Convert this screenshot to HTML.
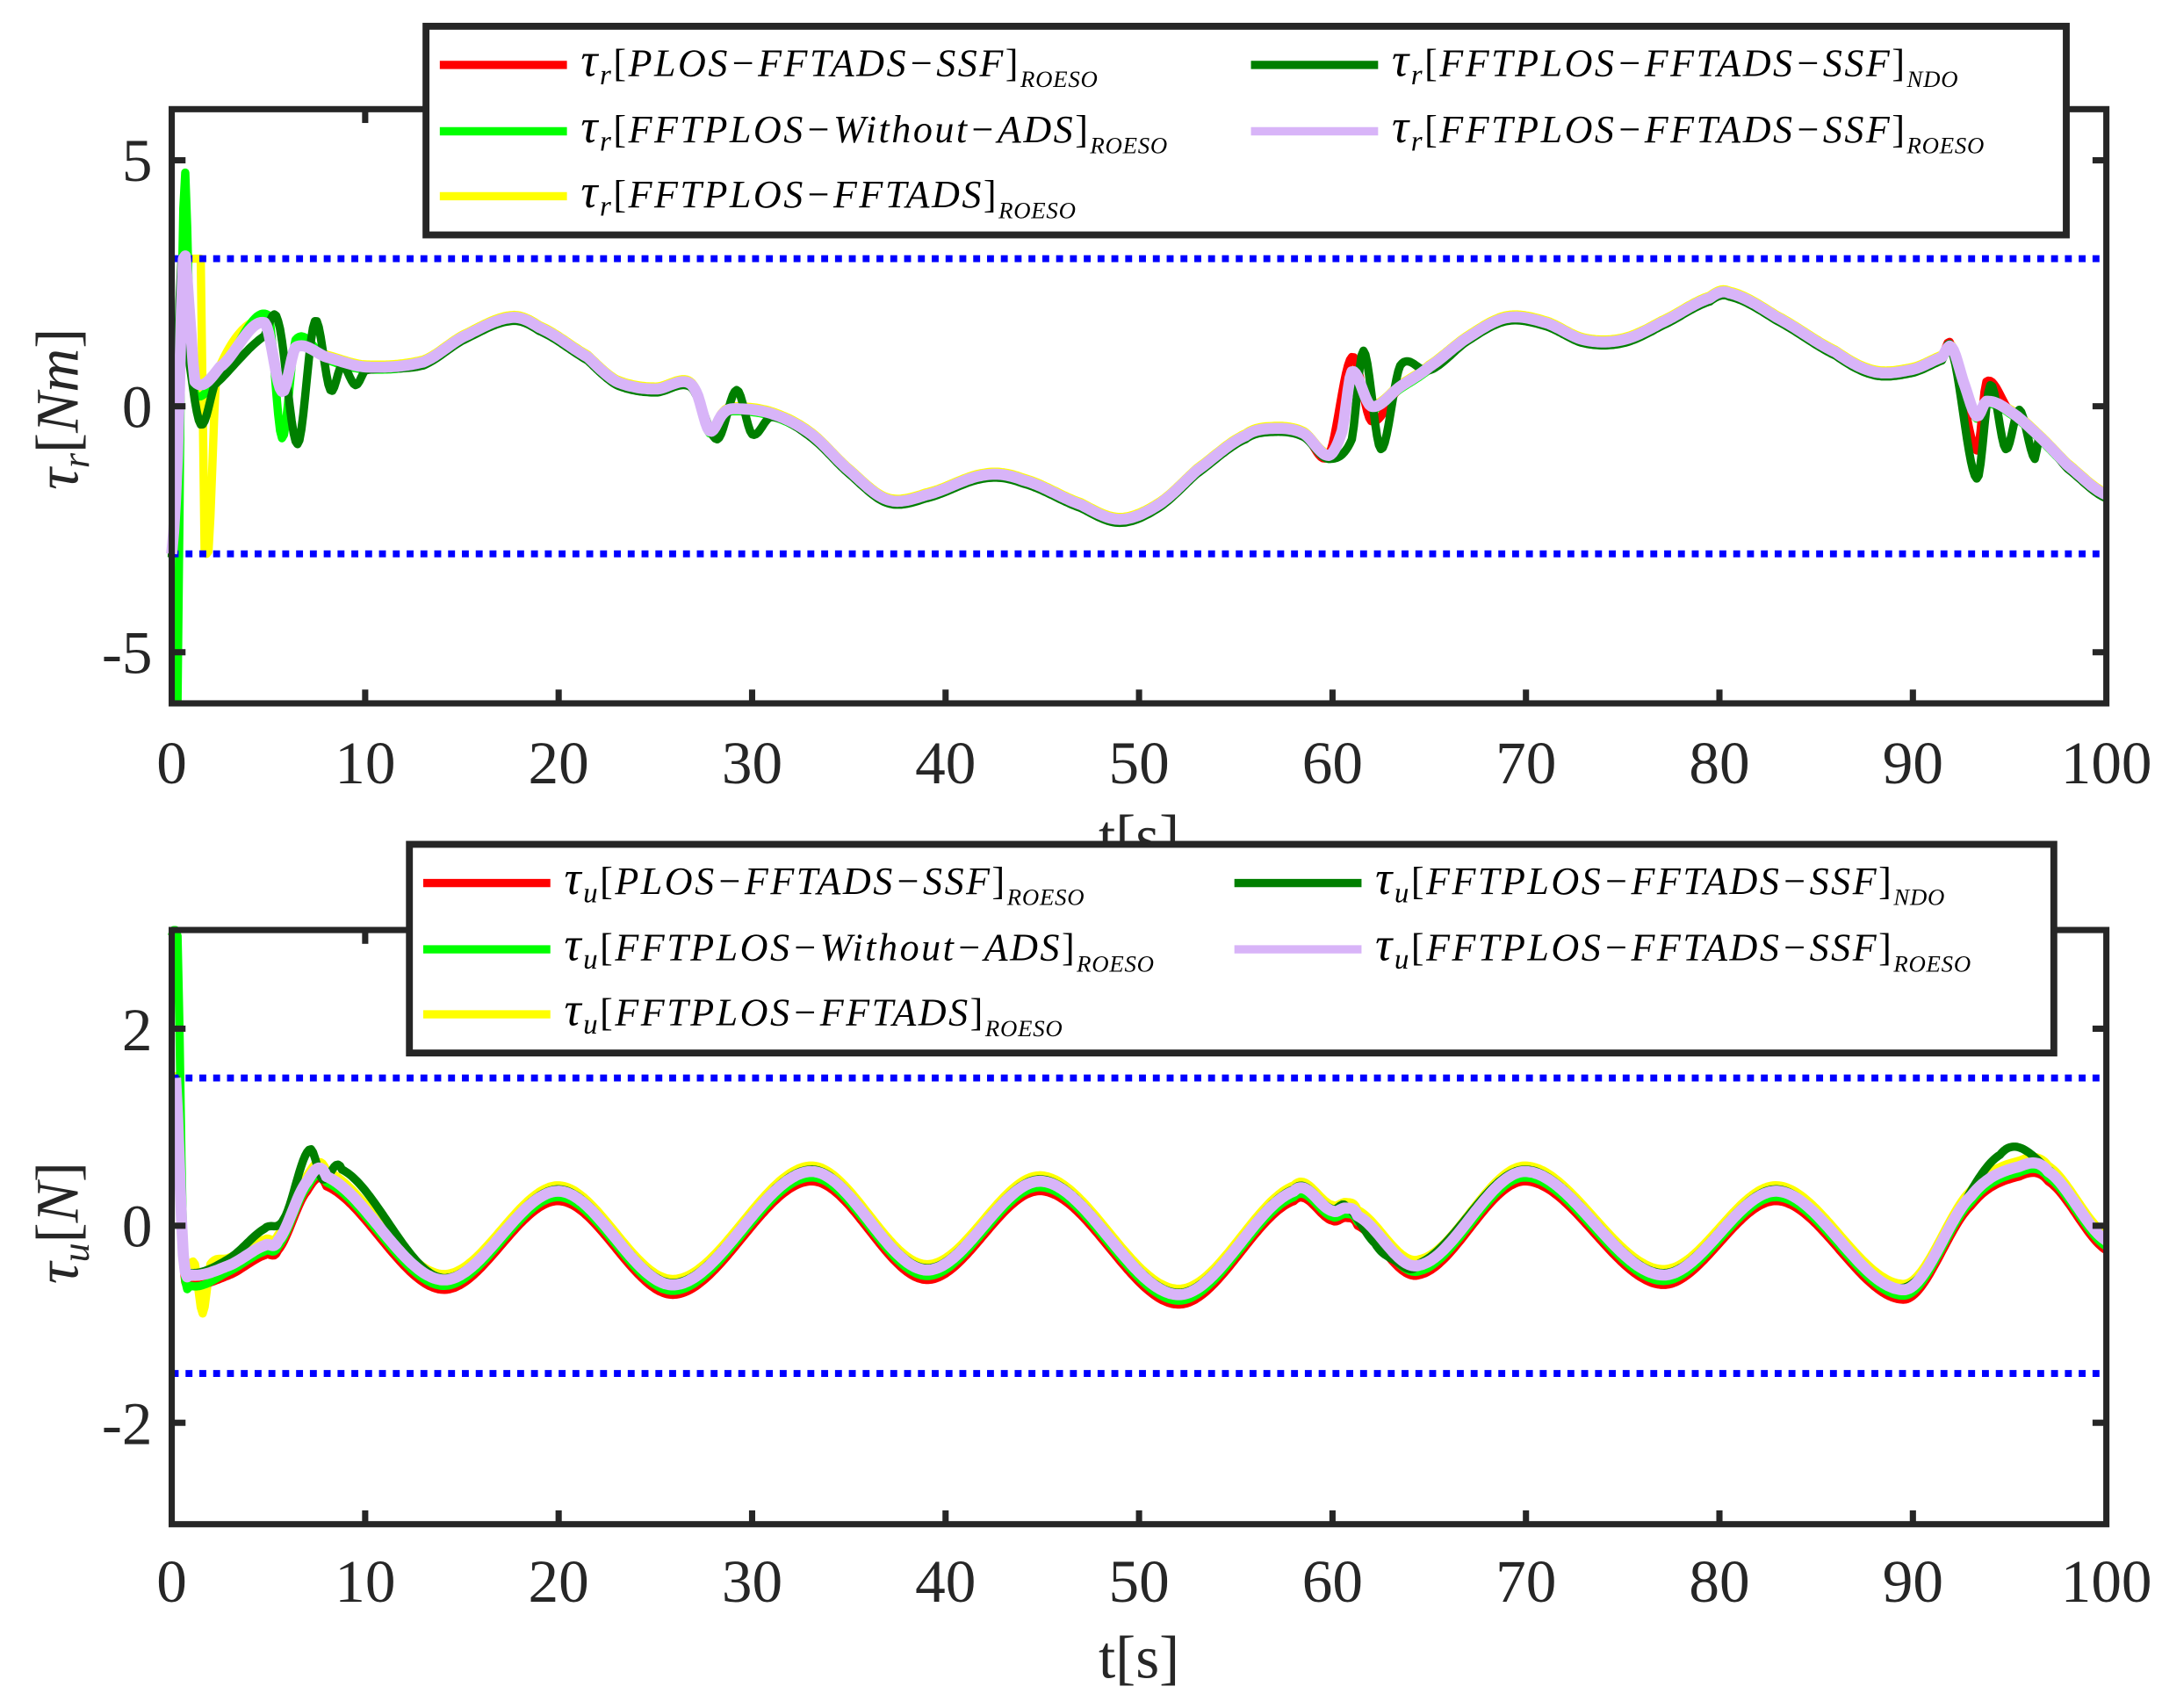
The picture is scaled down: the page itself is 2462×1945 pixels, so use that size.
<!DOCTYPE html>
<html><head><meta charset="utf-8">
<style>
html,body{margin:0;padding:0;background:#fff;}
svg{display:block;}
.tk{font-family:"Liberation Serif",serif;font-size:44px;fill:#262626;}
.lg{font-family:"Liberation Serif",serif;font-style:italic;font-size:28px;fill:#000;letter-spacing:1.6px;}
.sb{font-size:17px;letter-spacing:0.5px;}
</style></head>
<body>
<svg id="s" width="2462" height="1945" viewBox="0 0 1564 1236" xmlns="http://www.w3.org/2000/svg">
<rect width="1564" height="1236" fill="#fff"/>
<g id="p1"></g>
<g id="p2"></g>
<g stroke="#262626" stroke-width="4.5" fill="none">
<rect x="124" y="79" width="1400" height="430"/>
<rect x="124" y="673" width="1400" height="430"/>
</g>
<g id="ticks" stroke="#262626" stroke-width="4.5"></g>
<g class="tk" text-anchor="middle">
<text x="124" y="567">0</text><text x="264" y="567">10</text><text x="404" y="567">20</text><text x="544" y="567">30</text><text x="684" y="567">40</text><text x="824" y="567">50</text><text x="964" y="567">60</text><text x="1104" y="567">70</text><text x="1244" y="567">80</text><text x="1384" y="567">90</text><text x="1524" y="567">100</text>
<text x="824" y="620">t[s]</text>
<text x="124" y="1159">0</text><text x="264" y="1159">10</text><text x="404" y="1159">20</text><text x="544" y="1159">30</text><text x="684" y="1159">40</text><text x="824" y="1159">50</text><text x="964" y="1159">60</text><text x="1104" y="1159">70</text><text x="1244" y="1159">80</text><text x="1384" y="1159">90</text><text x="1524" y="1159">100</text>
<text x="824" y="1214">t[s]</text>
</g>
<g class="tk" text-anchor="end">
<text x="110" y="131">5</text><text x="110" y="309">0</text><text x="110" y="487">-5</text>
<text x="110" y="760">2</text><text x="110" y="902">0</text><text x="110" y="1045">-2</text>
</g>
<text class="tk" transform="translate(56,296) rotate(-90)" text-anchor="middle"><tspan font-style="italic">τ</tspan><tspan font-style="italic" font-size="28" dy="8">r</tspan><tspan dy="-8">[</tspan><tspan font-style="italic">Nm</tspan>]</text>
<text class="tk" transform="translate(56,885) rotate(-90)" text-anchor="middle"><tspan font-style="italic">τ</tspan><tspan font-style="italic" font-size="28" dy="8">u</tspan><tspan dy="-8">[</tspan><tspan font-style="italic">N</tspan>]</text>
<g id="leg"></g>
</svg>
<script>
var NS="http://www.w3.org/2000/svg";
function el(p,t,a){var e=document.createElementNS(NS,t);for(var k in a)e.setAttribute(k,a[k]);p.appendChild(e);return e;}
function X(t){return 124+14*t;}
function Y1(v){return 294-35.6*v;}
function Y2(v){return 887-71.3*v;}
function interp(pts,t){for(var i=0;i<pts.length-1;i++){if(t<=pts[i+1][0]){var a=pts[i],b=pts[i+1],p0=pts[Math.max(0,i-1)],p3=pts[Math.min(pts.length-1,i+2)];var u=(t-a[0])/(b[0]-a[0]||1);var m1=(b[1]-p0[1])/2,m2=(p3[1]-a[1])/2;var u2=u*u,u3=u2*u;return (2*u3-3*u2+1)*a[1]+(u3-2*u2+u)*m1+(-2*u3+3*u2)*b[1]+(u3-u2)*m2;}}return pts[pts.length-1][1];}
function path(g,pts,Y,col,w,off,clip){var d="";var ts=[];for(var t=pts[0][0];t<=100.001;t+=0.1)ts.push(t);pts.forEach(function(p){ts.push(p[0]);});ts.sort(function(a,b){return a-b;});ts.forEach(function(t,i){var v=interp(pts,t)+(off||0);if(clip)v=Math.max(clip[0],Math.min(clip[1],v));d+=(i?"L":"M")+X(t).toFixed(1)+" "+Y(v).toFixed(1);});el(g,"path",{d:d,stroke:col,"stroke-width":w,fill:"none","stroke-linejoin":"round"});}
var base=[[0,-3],[0.3,-1],[0.6,3],[0.9,2],[1.2,0.5],[2.5,0.8],[4.8,1.7],[5.7,0.3],[6.4,1.2],[8,1.0],[10,0.8],[13,0.9],[15,1.4],[17.5,1.8],[19,1.6],[21.5,1.0],[23,0.5],[25,0.35],[26.5,0.5],[27.1,0.3],[27.8,-0.5],[28.5,-0.15],[29,-0.05],[31,-0.15],[33,-0.55],[35,-1.3],[37,-1.9],[39,-1.8],[42,-1.4],[44,-1.5],[47,-2.0],[49,-2.3],[51,-2.0],[53,-1.3],[55.5,-0.6],[57,-0.45],[58.5,-0.55],[59.8,-1.0],[60.5,-0.5],[61,0.7],[62,0.0],[63.5,0.4],[65,0.8],[67,1.4],[69,1.8],[71,1.7],[73,1.35],[75,1.35],[77,1.7],[79.5,2.2],[80.5,2.3],[83,1.8],[86,1.1],[88,0.7],[90,0.75],[91.5,1.0],[92,1.2],[92.7,0.4],[93.3,-0.2],[93.8,0.1],[95,-0.1],[96.5,-0.6],[98,-1.2],[100,-1.8]];
function mod(b,rep){var r=b.slice();rep.forEach(function(p){r=r.filter(function(q){return q[0]<p[0]-0.01||q[0]>p[1]+0.01;});p[2].forEach(function(q){r.push(q);});});r.sort(function(a,c){return a[0]-c[0];});return r;}
var g1=document.getElementById("p1");
var green=mod(base,[[0,1.2,[[0,-6],[0.3,-6],[0.5,2],[0.7,4.8],[0.9,2],[1.2,0.3]]],[4.8,6.4,[[5.0,1.9],[5.7,-0.6],[6.4,1.4]]]]);
var dg=mod(base,[[0,8,[[0,-3],[0.5,3],[0.9,1],[1.5,-0.3],[2.2,0.5],[4.8,1.5],[5.5,1.8],[6.5,-0.7],[7.4,1.8],[8.2,0.4],[8.8,0.9],[9.5,0.5]]],[27.8,31,[[28.2,-0.6],[29.2,0.4],[30,-0.5],[31,-0.15]]],[60.5,63.5,[[61,-0.6],[61.6,1.2],[62.5,-0.8],[63.5,0.9]]],[92.7,95.5,[[93.3,-1.4],[94,0.5],[94.8,-0.8],[95.5,0],[96.3,-1.0]]]]);
var yl=mod(base,[[0.9,2.5,[[1.2,3],[1.5,3],[1.7,-3],[1.9,-3],[2.3,0.6]]]]);
var red=mod(base,[[60.5,62,[[61,1.0],[62,-0.3]]],[92.7,93.8,[[93.3,-0.9],[93.8,0.5]]]]);
path(g1,yl,Y1,"#ffff00",6,0.05,[-3,3]);
path(g1,green,Y1,"#00ff00",6,-0.05,[-6,6]);
path(g1,red,Y1,"#ff0000",6,0,[-6,6]);
path(g1,dg,Y1,"#007f00",6,-0.07,[-6,6]);
el(g1,"line",{x1:124,x2:1524,y1:Y1(3),y2:Y1(3),stroke:"#0000ff","stroke-width":5,"stroke-dasharray":"5 5"});
el(g1,"line",{x1:124,x2:1524,y1:Y1(-3),y2:Y1(-3),stroke:"#0000ff","stroke-width":5,"stroke-dasharray":"5 5"});
path(g1,base,Y1,"#d8b4f8",8,0,[-6,6]);
var ub=[[0.2,1.5],[0.6,-0.3],[1,-0.5],[3,-0.4],[4.8,-0.2],[5.5,-0.15],[7,0.45],[8,0.5],[14,-0.55],[20,0.35],[26,-0.6],[33,0.55],[39,-0.45],[45,0.45],[52,-0.7],[58,0.35],[60,0.15],[60.7,0.18],[61.3,0.1],[64.5,-0.4],[70,0.55],[77,-0.5],[83,0.35],[89.5,-0.65],[93,0.3],[95.5,0.6],[97,0.55],[100,-0.15]];
var g2=document.getElementById("p2");
var ugr=mod(ub,[[0.2,1,[[0,3],[0.3,3],[0.6,-0.2],[1,-0.55]]]]);
var uyl=mod(ub,[[1,3,[[1.2,-0.45],[1.6,-0.95],[2.0,-0.45],[3,-0.38]]]]);
var udg=mod(ub,[[3,8,[[3,-0.35],[4.8,-0.05],[5.8,0.05],[7.1,0.75],[7.8,0.45],[8.8,0.55]]],[61.3,63,[[62.2,-0.2],[63,-0.35]]],[93,95.5,[[94.5,0.7]]]]);
path(g2,uyl,Y2,"#ffff00",6,0.06,[-3,3]);
path(g2,ub,Y2,"#ff0000",6,-0.1,[-3,3]);
path(g2,ugr,Y2,"#00ff00",6,-0.06,[-3,3]);
path(g2,udg,Y2,"#007f00",6,0.02,[-3,3]);
el(g2,"line",{x1:124,x2:1524,y1:Y2(1.5),y2:Y2(1.5),stroke:"#0000ff","stroke-width":5,"stroke-dasharray":"5 5"});
el(g2,"line",{x1:124,x2:1524,y1:Y2(-1.5),y2:Y2(-1.5),stroke:"#0000ff","stroke-width":5,"stroke-dasharray":"5 5"});
path(g2,ub,Y2,"#d8b4f8",8,0,[-3,3]);
var tg=document.getElementById("ticks");
[[79,509],[673,1103]].forEach(function(b){for(var t=10;t<100;t+=10){var x=X(t);el(tg,"line",{x1:x,x2:x,y1:b[1],y2:b[1]-10});el(tg,"line",{x1:x,x2:x,y1:b[0],y2:b[0]+10});}});
[5,0,-5].forEach(function(v){var y=Y1(v);el(tg,"line",{x1:124,x2:134,y1:y,y2:y});el(tg,"line",{x1:1524,x2:1514,y1:y,y2:y});});
[2,0,-2].forEach(function(v){var y=Y2(v);el(tg,"line",{x1:124,x2:134,y1:y,y2:y});el(tg,"line",{x1:1524,x2:1514,y1:y,y2:y});});
var lg=document.getElementById("leg");
function legend(x,y,w,h,sym,c2x,items){el(lg,"rect",{x:x,y:y,width:w,height:h,fill:"#fff",stroke:"#262626","stroke-width":5});
items.forEach(function(it){var lx=it[0]?c2x:x+10;el(lg,"line",{x1:lx,x2:lx+92,y1:it[1],y2:it[1],stroke:it[2],"stroke-width":6});
var t=el(lg,"text",{x:lx+102,y:it[1]+8,"class":"lg"});
t.innerHTML='<tspan font-size="34">τ</tspan><tspan font-size="21" dy="6">'+sym+'</tspan><tspan dy="-6" font-style="normal">[</tspan>'+it[3]+'<tspan font-style="normal">]</tspan><tspan class="sb" dy="8">'+it[4]+'</tspan>';});}
legend(308,19,1187,151,"r",905,[[0,47,"#ff0000","PLOS−FFTADS−SSF","ROESO"],[0,95,"#00ff00","FFTPLOS−Without−ADS","ROESO"],[0,142,"#ffff00","FFTPLOS−FFTADS","ROESO"],[1,47,"#007f00","FFTPLOS−FFTADS−SSF","NDO"],[1,95,"#d8b4f8","FFTPLOS−FFTADS−SSF","ROESO"]]);
legend(296,611,1190,151,"u",893,[[0,639,"#ff0000","PLOS−FFTADS−SSF","ROESO"],[0,687,"#00ff00","FFTPLOS−Without−ADS","ROESO"],[0,734,"#ffff00","FFTPLOS−FFTADS","ROESO"],[1,639,"#007f00","FFTPLOS−FFTADS−SSF","NDO"],[1,687,"#d8b4f8","FFTPLOS−FFTADS−SSF","ROESO"]]);
</script>
</body></html>
